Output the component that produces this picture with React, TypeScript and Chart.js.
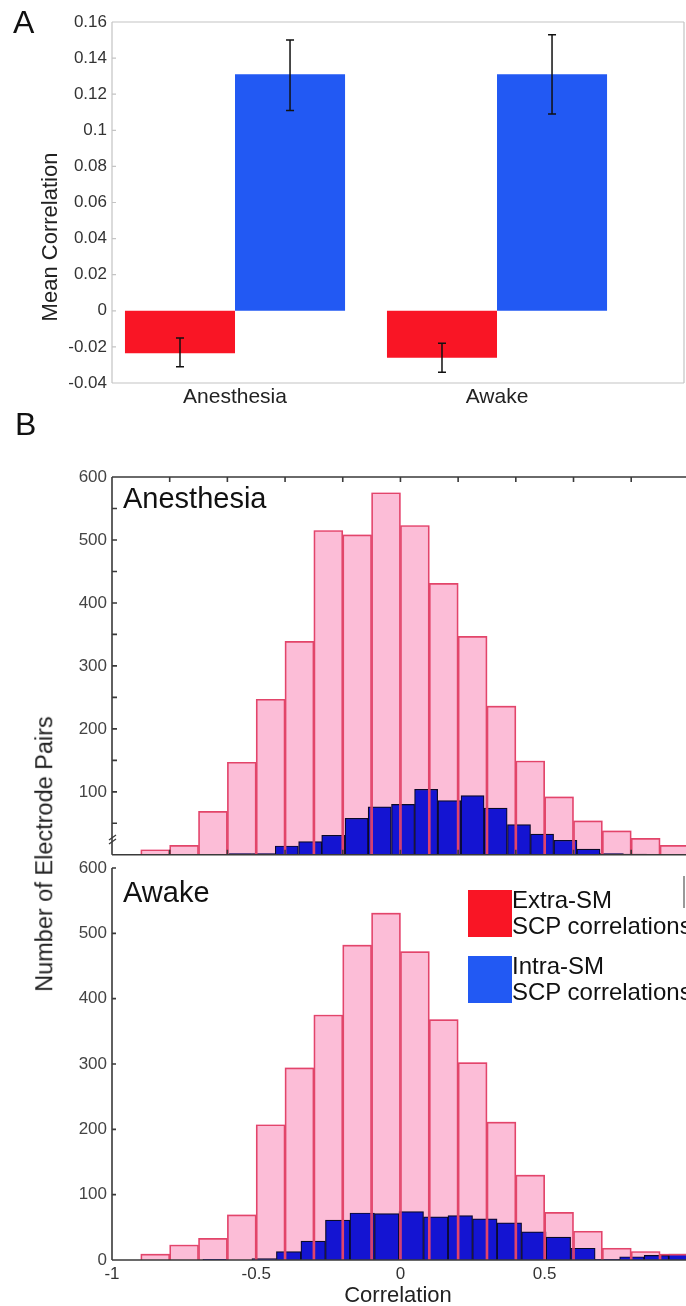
import React, { useEffect, useRef } from 'react';
import { Chart, registerables } from 'chart.js';

Chart.register(...registerables);

const FONT = '"Liberation Sans", Arial, Helvetica, sans-serif';

// ---------- Panel A data ----------
const conditionLabels = ['Anesthesia', 'Awake'];
const conditionPositions = [1, 2];
const extraSMMean = [-0.0235, -0.026];
const extraSMErrLow = [-0.031, -0.034];
const extraSMErrHigh = [-0.015, -0.018];
const intraSMMean = [0.131, 0.131];
const intraSMErrLow = [0.111, 0.109];
const intraSMErrHigh = [0.15, 0.153];
const meanCorrTicks = [-0.04, -0.02, 0, 0.02, 0.04, 0.06, 0.08, 0.1, 0.12, 0.14, 0.16];

// ---------- Panel B data ----------
const extraBinCenters = [-0.85, -0.75, -0.65, -0.55, -0.45, -0.35, -0.25, -0.15, -0.05, 0.05, 0.15, 0.25, 0.35, 0.45, 0.55, 0.65, 0.75, 0.85, 0.95];
const anesthesiaExtraCounts = [8, 15, 69, 147, 247, 339, 515, 508, 575, 523, 431, 347, 236, 149, 92, 54, 38, 26, 15];
const awakeExtraCounts = [9, 23, 33, 69, 207, 294, 375, 482, 531, 472, 368, 302, 211, 130, 73, 44, 18, 13, 9];

const anesthesiaIntraBinCenters = [-0.555, -0.474, -0.394, -0.313, -0.233, -0.152, -0.072, 0.009, 0.089, 0.17, 0.25, 0.33, 0.411, 0.491, 0.572, 0.652, 0.733, 0.813];
const anesthesiaIntraCounts = [2, 2, 14, 21, 31, 58, 76, 80, 104, 86, 94, 74, 48, 33, 23, 9, 2, 1];

const awakeIntraBinCenters = [-0.6425, -0.5575, -0.4725, -0.3875, -0.3025, -0.2175, -0.1325, -0.0475, 0.0375, 0.1225, 0.2075, 0.2925, 0.3775, 0.4625, 0.5475, 0.6325, 0.7175, 0.8025, 0.8875, 0.9725];
const awakeIntraCounts = [1, 0, 2, 13, 29, 61, 72, 71, 74, 66, 68, 63, 57, 43, 35, 18, 1, 5, 7, 9];

const correlationTickLabels = [-1, -0.5, 0, 0.5];
const correlationFrameTicks = [-1, -0.8, -0.6, -0.4, -0.2, 0, 0.2, 0.4, 0.6, 0.8];
const countTicks = [0, 100, 200, 300, 400, 500, 600];
const countMinorTicks = [50, 100, 150, 200, 250, 300, 350, 400, 450, 500, 550];

const RED = '#F91525';
const BLUE_A = '#2259F3';
const PINK = '#FCBDD7';
const PINK_EDGE = '#E2456A';
const BLUE_H = '#1414D2';

function fmt(v: number) {
  return String(Math.round(v * 100) / 100);
}

type FrameCfg = {
  id: string;
  color: string;
  width: number;
  top?: boolean;
  bottom?: boolean;
  left?: boolean;
  right?: boolean;
  xTicks?: number[];
  xTickTop?: boolean;
  xTickBottom?: boolean;
  yTicks?: number[];
  tickLen: number;
  breakMark?: number;
};

function makeFramePlugin(cfg: FrameCfg) {
  return {
    id: cfg.id,
    afterDraw(chart: any) {
      const { ctx, chartArea: a } = chart;
      ctx.save();
      ctx.strokeStyle = cfg.color;
      ctx.lineWidth = cfg.width;
      ctx.beginPath();
      if (cfg.top) { ctx.moveTo(a.left, a.top); ctx.lineTo(a.right, a.top); }
      if (cfg.bottom) { ctx.moveTo(a.left, a.bottom); ctx.lineTo(a.right, a.bottom); }
      if (cfg.left) { ctx.moveTo(a.left, a.top); ctx.lineTo(a.left, a.bottom); }
      if (cfg.right) { ctx.moveTo(a.right, a.top); ctx.lineTo(a.right, a.bottom); }
      const xs = chart.scales.x;
      const ys = chart.scales.y;
      if (cfg.xTicks) {
        cfg.xTicks.forEach((v) => {
          const px = xs.getPixelForValue(v);
          if (cfg.xTickTop) { ctx.moveTo(px, a.top); ctx.lineTo(px, a.top + cfg.tickLen); }
          if (cfg.xTickBottom) { ctx.moveTo(px, a.bottom); ctx.lineTo(px, a.bottom - cfg.tickLen); }
        });
      }
      if (cfg.yTicks) {
        cfg.yTicks.forEach((v) => {
          const py = ys.getPixelForValue(v);
          ctx.moveTo(a.left, py); ctx.lineTo(a.left + cfg.tickLen, py);
        });
      }
      ctx.stroke();
      if (cfg.breakMark !== undefined) {
        const py = ys.getPixelForValue(cfg.breakMark);
        ctx.beginPath();
        ctx.lineWidth = 1.3;
        ctx.moveTo(a.left - 3, py + 1); ctx.lineTo(a.left + 4, py - 4);
        ctx.moveTo(a.left - 3, py + 5); ctx.lineTo(a.left + 4, py);
        ctx.stroke();
      }
      ctx.restore();
    },
  };
}

function makeErrorBarPlugin(lows: number[][], highs: number[][]) {
  return {
    id: 'errorBars',
    afterDatasetsDraw(chart: any) {
      const { ctx } = chart;
      const ys = chart.scales.y;
      ctx.save();
      ctx.strokeStyle = '#111';
      ctx.lineWidth = 1.5;
      chart.data.datasets.forEach((_: any, di: number) => {
        const meta = chart.getDatasetMeta(di);
        meta.data.forEach((bar: any, i: number) => {
          const x = bar.x;
          const yl = ys.getPixelForValue(lows[di][i]);
          const yh = ys.getPixelForValue(highs[di][i]);
          ctx.beginPath();
          ctx.moveTo(x, yl); ctx.lineTo(x, yh);
          ctx.moveTo(x - 4, yl); ctx.lineTo(x + 4, yl);
          ctx.moveTo(x - 4, yh); ctx.lineTo(x + 4, yh);
          ctx.stroke();
        });
      });
      ctx.restore();
    },
  };
}

function makePanelA(canvas: HTMLCanvasElement) {
  return new Chart(canvas, {
    type: 'bar',
    data: {
      datasets: [
        {
          label: 'Extra-SM',
          data: conditionPositions.map((x, i) => ({ x, y: extraSMMean[i] })),
          backgroundColor: RED,
          borderWidth: 0,
          categoryPercentage: 0.84,
          barPercentage: 1,
        },
        {
          label: 'Intra-SM',
          data: conditionPositions.map((x, i) => ({ x, y: intraSMMean[i] })),
          backgroundColor: BLUE_A,
          borderWidth: 0,
          categoryPercentage: 0.84,
          barPercentage: 1,
        },
      ],
    } as any,
    options: {
      animation: false,
      responsive: false,
      maintainAspectRatio: false,
      layout: { padding: { top: 22, right: 2, left: 0, bottom: 0 } },
      plugins: { legend: { display: false }, tooltip: { enabled: false } },
      scales: {
        x: {
          type: 'linear',
          min: 0.5305,
          max: 2.7137,
          offset: false,
          afterBuildTicks: (axis: any) => { axis.ticks = conditionPositions.map((v) => ({ value: v })); },
          afterFit: (s: any) => { s.height = 37; },
          ticks: {
            callback: (v: any) => { const i = conditionPositions.indexOf(v); return i >= 0 ? conditionLabels[i] : ''; },
            font: { family: FONT, size: 21 },
            color: '#222',
            padding: 2,
            maxRotation: 0,
            autoSkip: false,
          },
          grid: { display: false, drawTicks: false },
          border: { display: false },
        },
        y: {
          min: -0.04,
          max: 0.16,
          afterBuildTicks: (axis: any) => { axis.ticks = meanCorrTicks.map((v) => ({ value: v })); },
          afterFit: (s: any) => { s.width = 112; },
          ticks: { callback: (v: any) => fmt(v), font: { family: FONT, size: 17 }, color: '#333', padding: 5 },
          grid: { display: false, drawTicks: false },
          border: { display: false },
        },
      } as any,
    },
    plugins: [
      makeErrorBarPlugin([extraSMErrLow, intraSMErrLow], [extraSMErrHigh, intraSMErrHigh]),
      makeFramePlugin({ id: 'frameA', color: '#C4C4C4', width: 1.2, top: true, bottom: true, left: true, right: true, yTicks: meanCorrTicks, tickLen: 4 }),
    ],
  });
}

type HistCfg = {
  extra: number[];
  intraCenters: number[];
  intra: number[];
  padTop: number;
  padBottom: number;
  xAxisHeight: number;
  showXLabels: boolean;
  hideZero: boolean;
  frame: FrameCfg;
};

function makeHist(canvas: HTMLCanvasElement, cfg: HistCfg) {
  const extraData = extraBinCenters.map((x, i) => ({ x, y: cfg.extra[i] }));
  return new Chart(canvas, {
    type: 'bar',
    data: {
      datasets: [
        {
          label: 'edges',
          data: extraData,
          xAxisID: 'x',
          backgroundColor: 'rgba(0,0,0,0)',
          borderColor: PINK_EDGE,
          borderWidth: 1,
          grouped: false,
          categoryPercentage: 1,
          barPercentage: 1,
          order: 1,
        },
        {
          label: 'Intra-SM',
          data: cfg.intraCenters.map((x, i) => ({ x, y: cfg.intra[i] })),
          xAxisID: 'x2',
          backgroundColor: BLUE_H,
          borderColor: '#0A0A28',
          borderWidth: 1.2,
          grouped: false,
          categoryPercentage: 1,
          barPercentage: 1,
          order: 2,
        },
        {
          label: 'Extra-SM',
          data: extraData,
          xAxisID: 'x',
          backgroundColor: PINK,
          borderWidth: 0,
          grouped: false,
          categoryPercentage: 1,
          barPercentage: 1,
          order: 3,
        },
      ],
    } as any,
    options: {
      animation: false,
      responsive: false,
      maintainAspectRatio: false,
      layout: { padding: { top: cfg.padTop, right: 0, left: 0, bottom: cfg.padBottom } },
      plugins: { legend: { display: false }, tooltip: { enabled: false } },
      scales: {
        x: {
          type: 'linear',
          min: -1,
          max: 0.99,
          offset: false,
          afterBuildTicks: (axis: any) => { axis.ticks = correlationTickLabels.map((v) => ({ value: v })); },
          afterFit: (s: any) => { s.height = cfg.xAxisHeight; },
          ticks: {
            display: cfg.showXLabels,
            callback: (v: any) => fmt(v),
            font: { family: FONT, size: 17 },
            color: '#333',
            padding: 4,
            maxRotation: 0,
            autoSkip: false,
          },
          grid: { display: false, drawTicks: false },
          border: { display: false },
        },
        x2: {
          type: 'linear',
          min: -1,
          max: 0.99,
          offset: false,
          display: false,
          ticks: { stepSize: 0.5 },
        },
        y: {
          min: 0,
          max: 600,
          afterBuildTicks: (axis: any) => { axis.ticks = countTicks.map((v) => ({ value: v })); },
          afterFit: (s: any) => { s.width = 112; },
          ticks: {
            callback: (v: any) => (cfg.hideZero && v === 0 ? '' : String(v)),
            font: { family: FONT, size: 17 },
            color: '#444',
            padding: 5,
          },
          grid: { display: false, drawTicks: false },
          border: { display: false },
        },
      } as any,
    },
    plugins: [makeFramePlugin(cfg.frame)],
  });
}

const abs = (left: number, top: number, size: number, extra: React.CSSProperties = {}): React.CSSProperties => ({
  position: 'absolute',
  left,
  top,
  fontSize: size,
  lineHeight: 1,
  whiteSpace: 'nowrap',
  color: '#111',
  ...extra,
});

export default function App() {
  const aRef = useRef<HTMLCanvasElement>(null);
  const b1Ref = useRef<HTMLCanvasElement>(null);
  const b2Ref = useRef<HTMLCanvasElement>(null);

  useEffect(() => {
    const charts: Chart[] = [];
    if (aRef.current) charts.push(makePanelA(aRef.current));
    if (b1Ref.current)
      charts.push(
        makeHist(b1Ref.current, {
          extra: anesthesiaExtraCounts,
          intraCenters: anesthesiaIntraBinCenters,
          intra: anesthesiaIntraCounts,
          padTop: 57,
          padBottom: 2,
          xAxisHeight: 0,
          showXLabels: false,
          hideZero: true,
          frame: {
            id: 'frameB1', color: '#3A3A3A', width: 1.6, top: true, bottom: true, left: true,
            xTicks: correlationFrameTicks, xTickTop: true, xTickBottom: true, yTicks: countMinorTicks, tickLen: 5, breakMark: 25,
          },
        })
      );
    if (b2Ref.current)
      charts.push(
        makeHist(b2Ref.current, {
          extra: awakeExtraCounts,
          intraCenters: awakeIntraBinCenters,
          intra: awakeIntraCounts,
          padTop: 20,
          padBottom: 0,
          xAxisHeight: 46,
          showXLabels: true,
          hideZero: false,
          frame: {
            id: 'frameB2', color: '#3A3A3A', width: 1.6, bottom: true, left: true,
            yTicks: countTicks, tickLen: 4,
          },
        })
      );
    return () => charts.forEach((c) => c.destroy());
  }, []);

  return (
    <div style={{ position: 'absolute', left: 0, top: 0, width: 686, height: 1306, overflow: 'hidden', background: '#fff', fontFamily: FONT }}>
      <canvas ref={aRef} width={686} height={420} style={{ position: 'absolute', left: 0, top: 0, display: 'block' }} />
      <canvas ref={b1Ref} width={686} height={450} style={{ position: 'absolute', left: 0, top: 420, display: 'block' }} />
      <canvas ref={b2Ref} width={686} height={458} style={{ position: 'absolute', left: 0, top: 848, display: 'block' }} />

      <div style={abs(13, 6, 32)}>A</div>
      <div style={abs(15, 408, 32)}>B</div>

      <div style={abs(50, 237, 22, { transform: 'translate(-50%, -50%) rotate(-90deg)', color: '#222' })}>Mean Correlation</div>
      <div style={abs(45, 854, 23.5, { transform: 'translate(-50%, -50%) rotate(-90deg)', color: '#222' })}>Number of Electrode Pairs</div>
      <div style={abs(398, 1284, 22, { transform: 'translateX(-50%)', color: '#222' })}>Correlation</div>

      <div style={abs(123, 484, 29)}>Anesthesia</div>
      <div style={abs(123, 878, 29)}>Awake</div>

      <div style={{ position: 'absolute', left: 468, top: 890, width: 44, height: 47, background: RED }} />
      <div style={abs(512, 888, 24)}>Extra-SM</div>
      <div style={abs(512, 914, 24)}>SCP correlations</div>
      <div style={{ position: 'absolute', left: 468, top: 956, width: 44, height: 47, background: BLUE_A }} />
      <div style={abs(512, 954, 24)}>Intra-SM</div>
      <div style={abs(512, 980, 24)}>SCP correlations</div>
      <div style={{ position: 'absolute', left: 683, top: 876, width: 1.5, height: 32, background: '#999' }} />
    </div>
  );
}
